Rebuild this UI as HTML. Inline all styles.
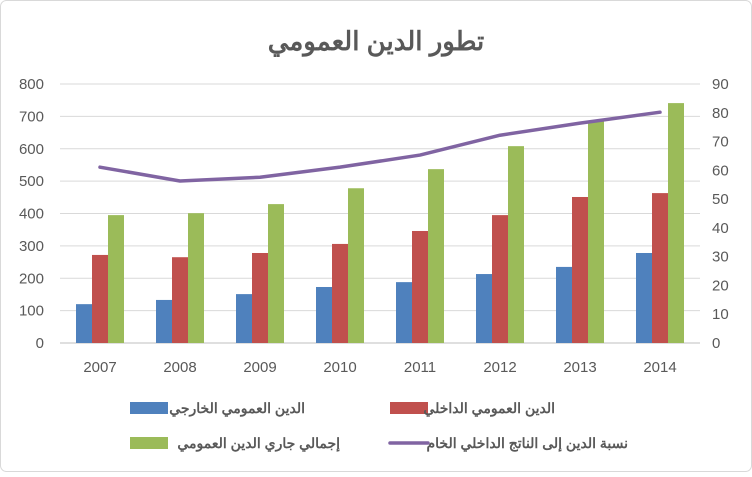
<!DOCTYPE html>
<html><head><meta charset="utf-8"><style>
body{margin:0;background:#fff;}
svg text{font-family:"Liberation Sans","Noto Sans CJK SC",sans-serif;}
</style></head><body>
<svg id="chart" width="752" height="472" xmlns="http://www.w3.org/2000/svg">
<rect x="0.5" y="0.5" width="751" height="471" rx="6" fill="#fff" stroke="#d9d9d9"/>
<text x="376" y="50" text-anchor="middle" font-size="26" font-weight="bold" fill="#595959">تطور الدين العمومي</text>
<g id="grid"></g><g id="bars"></g><g id="line"></g><g id="axes"></g>
<g font-size="14" font-weight="bold" fill="#595959">
<rect x="130" y="402" width="38" height="12" fill="#4f81bd"/>
<text x="305" y="413" text-anchor="end">الدين العمومي الخارجي</text>
<rect x="390" y="402" width="38" height="12" fill="#c0504d"/>
<text x="555" y="413" text-anchor="end">الدين العمومي الداخلي</text>
<rect x="130" y="437" width="38" height="12" fill="#9bbb59"/>
<text x="340" y="448" text-anchor="end">إجمالي جاري الدين العمومي</text>
<line x1="390" y1="443" x2="428" y2="443" stroke="#8064a2" stroke-width="3.5" stroke-linecap="round"/>
<text x="628" y="448" text-anchor="end">نسبة الدين إلى الناتج الداخلي الخام</text>
</g>
</svg>
<script>
const years=["2007","2008","2009","2010","2011","2012","2013","2014"];
const external=[120,133,151,173,188,213,235,278];
const internal=[272,265,278,306,346,395,451,463];
const total=[395,401,429,478,537,608,685,741];
const ratio=[61.1,56.3,57.6,61.1,65.3,72.2,76.4,80.2];
const leftTicks=[0,100,200,300,400,500,600,700,800];
const rightTicks=[0,10,20,30,40,50,60,70,80,90];
const NS="http://www.w3.org/2000/svg";
const x0=60,x1=700,yb=343,yt=84;
const yL=v=>yb-(v/800)*(yb-yt);
const yR=v=>yb-(v/90)*(yb-yt);
const step=(x1-x0)/years.length;
const xc=i=>x0+step*(i+0.5);
function mk(tag,attrs,parent){const e=document.createElementNS(NS,tag);for(const k in attrs)e.setAttribute(k,attrs[k]);document.getElementById(parent).appendChild(e);return e;}
leftTicks.forEach(t=>{
 const g=mk("line",{x1:x0,x2:x1,y1:yL(t),y2:yL(t),stroke:t===0?"#bfbfbf":"#d9d9d9"},"grid");
 
 
 const l=mk("text",{x:44,y:yL(t)+5,"text-anchor":"end","font-size":"15",fill:"#595959"},"axes");l.textContent=t;
 
 
});
rightTicks.forEach(t=>{
 const l=mk("text",{x:712,y:yR(t)+5,"text-anchor":"start","font-size":"15",fill:"#595959"},"axes");l.textContent=t;
 
 
});
const series=[[external,"#4f81bd","bar-external"],[internal,"#c0504d","bar-internal"],[total,"#9bbb59","bar-total"]];
const bw=16;
years.forEach((y,i)=>{
 series.forEach((s,j)=>{
  const v=s[0][i];
  const r=mk("rect",{x:xc(i)+(j-1)*bw-bw/2,y:yL(v),width:bw,height:yb-yL(v),fill:s[1]},"bars");
  
  
 });
 const l=mk("text",{x:xc(i),y:372,"text-anchor":"middle","font-size":"15",fill:"#595959"},"axes");l.textContent=y;
 
 
});
const p=mk("polyline",{points:ratio.map((v,i)=>xc(i)+","+yR(v)).join(" "),fill:"none",stroke:"#8064a2","stroke-width":"3.5","stroke-linejoin":"round","stroke-linecap":"round"},"line");


</script>
</body></html>
